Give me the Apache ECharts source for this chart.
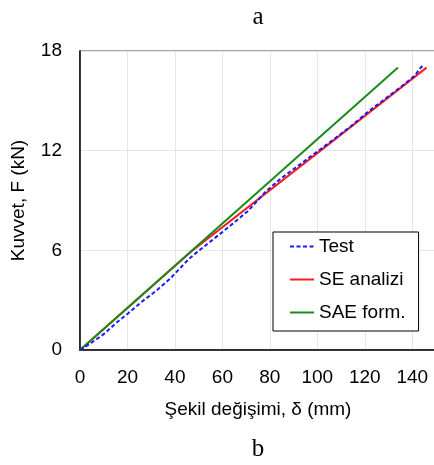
<!DOCTYPE html>
<html>
<head>
<meta charset="utf-8">
<script src="https://cdn.jsdelivr.net/npm/echarts@6/dist/echarts.min.js"></script>
<style>
  html, body { margin: 0; padding: 0; background: #fff; }
  #chart { width: 434px; height: 465px; }
</style>
</head>
<body>
<div id="chart"></div>
<script>
// deney verisi (okunan degerler)
var testData = [
    [0, 0], [5, 0.45], [10.4, 1.0], [15, 1.6], [20.2, 2.2], [26, 2.9], [32, 3.55],
    [38, 4.3], [42, 4.9], [46, 5.5], [52, 6.2], [60, 7.1], [66, 7.8], [71, 8.4],
    [78, 9.5], [84.4, 10.3], [92, 11.1], [101, 12.05], [108, 12.8], [114, 13.45],
    [121, 14.3], [128, 15.06], [133, 15.6], [138, 16.16], [141, 16.5], [143.4, 16.97], [145, 17.2]
];
var seData = [[0, 0], [47, 5.95], [100, 11.85], [146, 17.0]];
var saeData = [[0, 0], [134, 17.0]];

var xTicks = [0, 20, 40, 60, 80, 100, 120, 140];
var yTicks = [0, 6, 12, 18];

var chart = echarts.init(document.getElementById('chart'));

var labelFont = 'Liberation Sans';
var fs = 19;

var option = {
    animation: false,
    backgroundColor: '#fff',
    title: [
        { text: 'a', left: 253, top: 0, textAlign: 'center',
          textStyle: { fontFamily: 'Liberation Serif', fontWeight: 'normal', fontSize: 25, color: '#000' } },
        { text: 'b', left: 253, top: 432, textAlign: 'center',
          textStyle: { fontFamily: 'Liberation Serif', fontWeight: 'normal', fontSize: 25, color: '#000' } }
    ],
    grid: {
        left: 80, top: 51, right: -2, bottom: 115,
        outerBoundsMode: 'none', containLabel: false,
        show: true, borderColor: '#888', borderWidth: 1.5
    },
    legend: {
        left: 273, top: 232, orient: 'vertical',
        padding: [5, 13, 9, 16],
        itemWidth: 24, itemHeight: 22, itemGap: 14,
        borderColor: '#000', borderWidth: 1, backgroundColor: '#fff',
        itemStyle: { opacity: 0 },
        textStyle: { fontFamily: labelFont, fontSize: fs, color: '#000' },
        data: ['Test', 'SE analizi', 'SAE form.']
    },
    xAxis: {
        type: 'value', min: 0, max: 150, interval: 20,
        name: 'Şekil değişimi, δ (mm)', nameLocation: 'middle', nameGap: 50,
        nameTextStyle: { fontFamily: labelFont, fontSize: fs, color: '#000' },
        axisLine: { lineStyle: { color: '#000', width: 1.5 } },
        axisTick: { show: false },
        axisLabel: {
            margin: 18, fontFamily: labelFont, fontSize: fs, color: '#000', showMaxLabel: false,
            formatter: function (v) { return xTicks.indexOf(v) >= 0 ? String(v) : ''; }
        },
        splitLine: { show: true, lineStyle: { color: '#e6e6e6', width: 1 } }
    },
    yAxis: {
        type: 'value', min: 0, max: 18, interval: 6,
        name: 'Kuvvet, F (kN)', nameLocation: 'middle', nameGap: 52,
        nameTextStyle: { fontFamily: labelFont, fontSize: fs, color: '#000' },
        axisLine: { show: true, lineStyle: { color: '#000', width: 1.5 } },
        axisTick: { show: false },
        axisLabel: {
            margin: 18, fontFamily: labelFont, fontSize: fs, color: '#000',
            formatter: function (v) { return yTicks.indexOf(v) >= 0 ? String(v) : ''; }
        },
        splitLine: { show: true, lineStyle: { color: '#e6e6e6', width: 1 } }
    },
    series: [
        {
            name: 'Test', type: 'line', data: testData, symbol: 'none', z: 3,
            lineStyle: { color: '#1a1aff', width: 2, type: [4, 2.5] },
            itemStyle: { color: '#1a1aff' }
        },
        {
            name: 'SE analizi', type: 'line', data: seData, symbol: 'none', z: 2,
            lineStyle: { color: '#ff1a1a', width: 2 },
            itemStyle: { color: '#ff1a1a' }
        },
        {
            name: 'SAE form.', type: 'line', data: saeData, symbol: 'none', z: 2,
            lineStyle: { color: '#1a8a1a', width: 2 },
            itemStyle: { color: '#1a8a1a' }
        }
    ]
};

chart.setOption(option);
</script>
</body>
</html>
